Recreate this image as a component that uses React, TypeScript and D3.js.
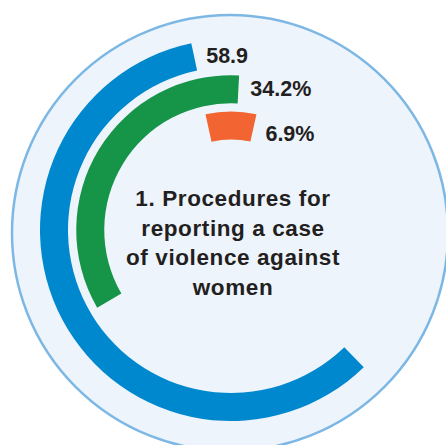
import React from "react";
import * as d3 from "d3";

const categories = ["Blue", "Green", "Orange"];
const values = [58.9, 34.2, 6.9];
const valueLabels = ["58.9", "34.2%", "6.9%"];
const titleLines = ["1. Procedures for", "reporting a case", "of violence against", "women"];

const COLORS = ["#0088CE", "#169448", "#F26532"];
const END_DEG = [-12, 3, 12.4];

const W = 446;
const H = 445;
const CX = 231;
const CY = 230;

export default function App() {
  const ring = d3.scaleBand<string>().domain(categories).range([191, 90.5]).paddingInner(0.2276).paddingOuter(0);
  const span = d3.scaleLinear().domain([0, 100]).range([0, 2 * Math.PI]);
  const arc = d3.arc<any>();
  const rad = (d: number) => (d * Math.PI) / 180;

  return (
    <svg width={W} height={H} style={{ position: "absolute", left: 0, top: 0, background: "#fff" }}>
      <circle cx={230} cy={233} r={218} fill="#EEF4FC" stroke="#7DB8E5" strokeWidth={2.5} />
      <g transform={`translate(${CX},${CY})`}>
        {categories.map((c, i) => {
          const inner = ring(c)!;
          const outer = inner + ring.bandwidth();
          const end = rad(END_DEG[i]);
          const start = end - span(values[i]);
          const d = arc({ innerRadius: inner, outerRadius: outer, startAngle: start, endAngle: end });
          return <path key={c} d={d || ""} fill={COLORS[i]} />;
        })}
        {categories.map((c, i) => {
          const inner = ring(c)!;
          const mid = inner + ring.bandwidth() / 2;
          const end = rad(END_DEG[i]);
          const x = mid * Math.sin(end) + 12;
          const y = -mid * Math.cos(end);
          return (
            <text
              key={c + "l"}
              x={x}
              y={y}
              dy={i === 2 ? "0.6em" : "0.3em"}
              fontFamily="'Liberation Sans', Arial, sans-serif"
              fontWeight="bold"
              fontSize={21.5}
              fill="#231F20"
            >
              {valueLabels[i]}
            </text>
          );
        })}
      </g>
      <g>
        {titleLines.map((t, i) => (
          <text
            key={t}
            x={233}
            y={206 + i * 29.5}
            textAnchor="middle"
            fontFamily="'Liberation Sans', Arial, sans-serif"
            fontWeight="bold"
            fontSize={22.5}
            letterSpacing={0.6}
            fill="#231F20"
          >
            {t}
          </text>
        ))}
      </g>
    </svg>
  );
}
